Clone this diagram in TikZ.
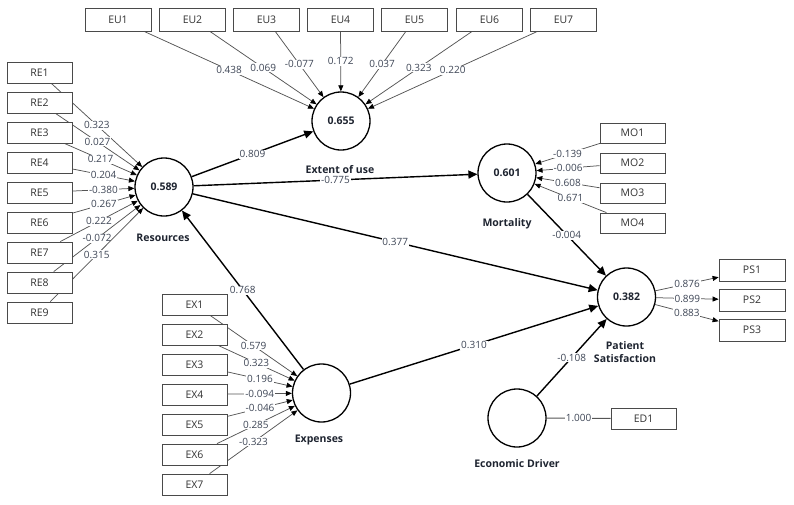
\documentclass[tikz,border=0pt]{standalone}
\usepackage{fontspec}
\setmainfont{Open Sans}
\usetikzlibrary{arrows.meta}
\pgfdeclarelayer{bg}
\pgfsetlayers{bg,main}
\definecolor{boxc}{HTML}{4A4A4A}
\definecolor{linec}{HTML}{555555}
\definecolor{lblc}{HTML}{3E4656}
\definecolor{txtc}{HTML}{333333}
\definecolor{namec}{HTML}{1E2430}
\tikzset{
  ind/.style={rectangle, draw=boxc, line width=0.8pt, fill=white, minimum width=65pt, minimum height=21pt, inner sep=0pt, font=\fontsize{10.5}{12}\selectfont, text=txtc},
  indeu/.style={ind, minimum width=66pt, minimum height=23pt},
  lv/.style={circle, draw=black, line width=1.3pt, fill=white, minimum size=58pt, inner sep=0pt, font=\bfseries\fontsize{10.5}{12}\selectfont, text=namec},
  lvname/.style={font=\bfseries\fontsize{10.5}{12.5}\selectfont, text=namec, align=center, inner sep=0pt},
  outl/.style={draw=linec, line width=0.75pt, -{Triangle[length=6pt,width=5pt,color=black]}},
  plainl/.style={draw=linec, line width=1pt},
  outr/.style={draw=linec, line width=0.75pt, -{Triangle[length=6pt,width=5pt,color=black]}},
  innerp/.style={draw=black, line width=1.4pt, -{Triangle[length=9pt,width=8pt]}},
  lbl/.style={fill=white, inner sep=0.8pt, font=\fontsize{10}{11}\selectfont, text=lblc}
}
\begin{document}
\begin{tikzpicture}[x=1pt,y=-1pt]
\useasboundingbox (0,0) rectangle (794,504);
% latent variables
\node[lv] (EU) at (341,121) {0.655};
\node[lv] (RES) at (164,187) {0.589};
\node[lv] (MO) at (507,173) {0.601};
\node[lv] (PS) at (626.5,297) {0.382};
\node[lv] (EXP) at (321.5,393) {};
\node[lv] (ED) at (517,418) {};
\node[lvname] (nEU) at (340,170) {Extent of use};
\node[lvname] (nRES) at (163,238) {Resources};
\node[lvname] (nMO) at (507,224) {Mortality};
\node[lvname] (nPS) at (625,352) {Patient\\Satisfaction};
\node[lvname] (nEXP) at (319,440) {Expenses};
\node[lvname] (nED) at (517,464) {Economic Driver};
% indicators EU
\node[indeu] (EU1) at (118,19.5) {EU1};
\node[indeu] (EU2) at (192.5,19.5) {EU2};
\node[indeu] (EU3) at (266.5,19.5) {EU3};
\node[indeu] (EU4) at (340.5,19.5) {EU4};
\node[indeu] (EU5) at (414.5,19.5) {EU5};
\node[indeu] (EU6) at (489.5,19.5) {EU6};
\node[indeu] (EU7) at (563.5,19.5) {EU7};
% RE
\node[ind] (RE1) at (39.5,72.5) {RE1};
\node[ind] (RE2) at (39.5,102.5) {RE2};
\node[ind] (RE3) at (39.5,132.5) {RE3};
\node[ind] (RE4) at (39.5,162.5) {RE4};
\node[ind] (RE5) at (39.5,192.5) {RE5};
\node[ind] (RE6) at (39.5,222.5) {RE6};
\node[ind] (RE7) at (39.5,252.5) {RE7};
\node[ind] (RE8) at (39.5,282.5) {RE8};
\node[ind] (RE9) at (39.5,312.5) {RE9};
% EX
\node[ind] (EX1) at (194.5,304.5) {EX1};
\node[ind] (EX2) at (194.5,334.5) {EX2};
\node[ind] (EX3) at (194.5,364.5) {EX3};
\node[ind] (EX4) at (194.5,394.5) {EX4};
\node[ind] (EX5) at (194.5,424.5) {EX5};
\node[ind] (EX6) at (194.5,454.5) {EX6};
\node[ind] (EX7) at (194.5,484.5) {EX7};
% MO
\node[ind, minimum height=20pt] (MO1) at (632.5,133) {MO1};
\node[ind, minimum height=20pt] (MO2) at (632.5,163) {MO2};
\node[ind, minimum height=20pt] (MO3) at (632.5,193) {MO3};
\node[ind, minimum height=20pt] (MO4) at (632.5,223) {MO4};
% PS
\node[ind, minimum width=66pt, minimum height=22pt] (PS1) at (752,270) {PS1};
\node[ind, minimum width=66pt, minimum height=22pt] (PS2) at (752,300) {PS2};
\node[ind, minimum width=66pt, minimum height=22pt] (PS3) at (752,330) {PS3};
% ED
\node[ind] (ED1) at (643.5,418.5) {ED1};

\begin{pgfonlayer}{bg}
% EU outer
\draw[outl] (EU1) -- node[lbl]{0.438} (EU);
\draw[outl] (EU2) -- node[lbl]{0.069} (EU);
\draw[outl] (EU3) -- node[lbl]{-0.077} (EU);
\draw[outl] (EU4) -- node[lbl]{0.172} (EU);
\draw[outl] (EU5) -- node[lbl]{0.037} (EU);
\draw[outl] (EU6) -- node[lbl]{0.323} (EU);
\draw[outl] (EU7) -- node[lbl]{0.220} (EU);
% RE outer
\draw[outl] (RE1) -- node[lbl]{0.323} (RES);
\draw[outl] (RE2) -- node[lbl]{0.027} (RES);
\draw[outl] (RE3) -- node[lbl]{0.217} (RES);
\draw[outl] (RE4) -- node[lbl]{0.204} (RES);
\draw[outl] (RE5) -- node[lbl]{-0.380} (RES);
\draw[outl] (RE6) -- node[lbl]{0.267} (RES);
\draw[outl] (RE7) -- node[lbl]{0.222} (RES);
\draw[outl] (RE8) -- node[lbl]{-0.072} (RES);
\draw[outl] (RE9) -- node[lbl]{0.315} (RES);
% EX outer
\draw[outl] (EX1) -- node[lbl]{0.579} (EXP);
\draw[outl] (EX2) -- node[lbl]{0.323} (EXP);
\draw[outl] (EX3) -- node[lbl]{0.196} (EXP);
\draw[outl] (EX4) -- node[lbl]{-0.094} (EXP);
\draw[outl] (EX5) -- node[lbl]{-0.046} (EXP);
\draw[outl] (EX6) -- node[lbl]{0.285} (EXP);
\draw[outl] (EX7) -- node[lbl]{-0.323} (EXP);
% MO outer
\draw[outl] (MO1) -- node[lbl]{-0.139} (MO);
\draw[outl] (MO2) -- node[lbl]{-0.006} (MO);
\draw[outl] (MO3) -- node[lbl]{0.608} (MO);
\draw[outl] (MO4) -- node[lbl]{0.671} (MO);
% PS outer (reflective)
\draw[outr] (PS) -- node[lbl]{0.876} (PS1);
\draw[outr] (PS) -- node[lbl]{0.899} (PS2);
\draw[outr] (PS) -- node[lbl]{0.883} (PS3);
% ED
\draw[plainl] (ED) -- node[lbl]{1.000} (ED1);
% inner model
\draw[innerp] (RES) -- node[lbl]{0.809} (EU);
\draw[innerp] (RES) -- node[lbl]{-0.775} (MO);
\draw[innerp] (RES) -- node[lbl]{0.377} (PS);
\draw[innerp] (MO) -- node[lbl]{-0.004} (PS);
\draw[innerp] (EXP) -- node[lbl]{0.768} (RES);
\draw[innerp] (EXP) -- node[lbl]{0.310} (PS);
\draw[innerp] (ED) -- node[lbl]{-0.108} (PS);
\end{pgfonlayer}
\end{tikzpicture}
\end{document}
